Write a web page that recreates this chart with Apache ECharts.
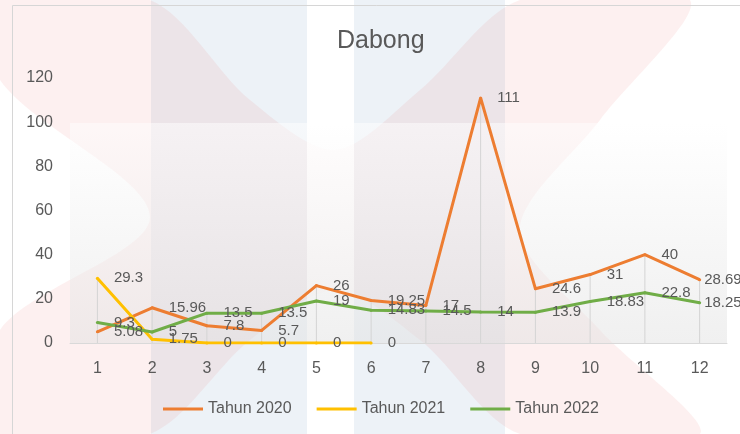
<!DOCTYPE html>
<html>
<head>
<meta charset="utf-8">
<script src="https://cdn.jsdelivr.net/npm/echarts@6/dist/echarts.min.js"></script>
<style>
  html, body { margin: 0; padding: 0; background: #fff; }
  #chart { width: 740px; height: 434px; }
</style>
</head>
<body>
<div id="chart"></div>
<script>
// months on the x axis
const months = ['1', '2', '3', '4', '5', '6', '7', '8', '9', '10', '11', '12'];
const seriesNames = ['Tahun 2020', 'Tahun 2021', 'Tahun 2022'];
const tahun2020 = [5.08, 15.96, 7.8, 5.7, 26, 19.25, 17, 111, 24.6, 31, 40, 28.69];
const tahun2021 = [29.3, 1.75, 0, 0, 0, 0];
const tahun2022 = [9.3, 5, 13.5, 13.5, 19, 14.83, 14.5, 14, 13.9, 18.83, 22.8, 18.25];
const yTicks = [0, 20, 40, 60, 80, 100, 120];

const colors = ['#ED7D31', '#FFC000', '#70AD47'];
const textGrey = '#595959';
const font = 'Liberation Sans';

// drop lines run from the highest point of each month down to the axis
const dropLines = months.map((m, i) => {
  const vals = [tahun2020[i], tahun2021[i], tahun2022[i]].filter(v => v != null);
  return Math.max.apply(null, vals);
});

const chart = echarts.init(document.getElementById('chart'));

function lineSeries(name, data, color) {
  // the label of the last month is pulled in so it fits the chart box
  const points = data.map((v, i) =>
    i === months.length - 1 ? { value: v, label: { distance: 3 } } : v);
  return {
    name: name,
    type: 'line',
    data: points,
    z: 3,
    symbol: 'circle',
    symbolSize: 3,
    itemStyle: { color: color },
    lineStyle: { color: color, width: 3 },
    label: {
      show: true,
      position: 'right',
      distance: 15,
      color: textGrey,
      fontFamily: font,
      fontSize: 15
    }
  };
}

// faint watermark behind the chart
const watermark = [
  {
    type: 'rect', z: -10,
    shape: { x: 151, y: 0, width: 156, height: 434 },
    style: { fill: '#edf2f7' }
  },
  {
    type: 'rect', z: -10,
    shape: { x: 354, y: 0, width: 151, height: 434 },
    style: { fill: '#edf2f7' }
  },
  {
    type: 'polygon', z: -9,
    shape: {
      smooth: 0.3,
      points: [
        [0, 0], [150, 0], [250, 100], [335, 150], [420, 90], [520, 0], [690, 0],
        [600, 120], [520, 230], [600, 330], [700, 434], [520, 434], [420, 340],
        [335, 290], [250, 340], [150, 434], [0, 434], [0, 330], [150, 217], [0, 80]
      ]
    },
    style: { fill: 'rgba(240,110,110,0.10)' }
  },
  {
    type: 'rect', z: -8,
    shape: { x: 307, y: 0, width: 47, height: 434 },
    style: { fill: 'rgba(255,255,255,0.75)' }
  },
  {
    type: 'rect', z: -7,
    shape: { x: 70, y: 123, width: 657, height: 220 },
    style: {
      fill: new echarts.graphic.LinearGradient(0, 0, 0, 1, [
        { offset: 0, color: 'rgba(255,255,255,0.5)' },
        { offset: 1, color: 'rgba(225,225,225,0.5)' }
      ])
    }
  },
  {
    type: 'rect', z: -6,
    shape: { x: 12.5, y: 5.5, width: 760, height: 460 },
    style: { fill: 'none', stroke: '#d6d6d6', lineWidth: 1 }
  }
];

const option = {
  animation: false,
  color: colors,
  title: {
    text: 'Dabong',
    left: 332,
    top: 24,
    textStyle: {
      color: textGrey,
      fontFamily: font,
      fontSize: 25,
      fontWeight: 'normal'
    }
  },
  legend: {
    data: seriesNames,
    left: 158,
    top: 396,
    itemWidth: 40,
    itemHeight: 3,
    itemGap: 25,
    icon: 'rect',
    textStyle: { color: textGrey, fontFamily: font, fontSize: 16 }
  },
  grid: {
    left: 70,
    right: 13,
    top: 78,
    bottom: 91
  },
  xAxis: {
    type: 'category',
    data: months,
    boundaryGap: true,
    axisTick: { show: false },
    axisLine: { lineStyle: { color: '#d9d9d9', width: 1 } },
    axisLabel: {
      color: textGrey,
      fontFamily: font,
      fontSize: 16,
      margin: 18
    }
  },
  yAxis: {
    type: 'value',
    min: yTicks[0],
    max: yTicks[yTicks.length - 1],
    interval: 20,
    axisLine: { show: false },
    axisTick: { show: false },
    splitLine: { show: false },
    axisLabel: {
      color: textGrey,
      fontFamily: font,
      fontSize: 16,
      margin: 17
    }
  },
  graphic: watermark,
  series: [
    {
      name: 'drop',
      type: 'bar',
      data: dropLines,
      barWidth: 1,
      silent: true,
      z: 1,
      itemStyle: { color: '#d4d4d4' }
    },
    lineSeries(seriesNames[0], tahun2020, colors[0]),
    lineSeries(seriesNames[1], tahun2021, colors[1]),
    lineSeries(seriesNames[2], tahun2022, colors[2])
  ]
};

chart.setOption(option);
</script>
</body>
</html>
